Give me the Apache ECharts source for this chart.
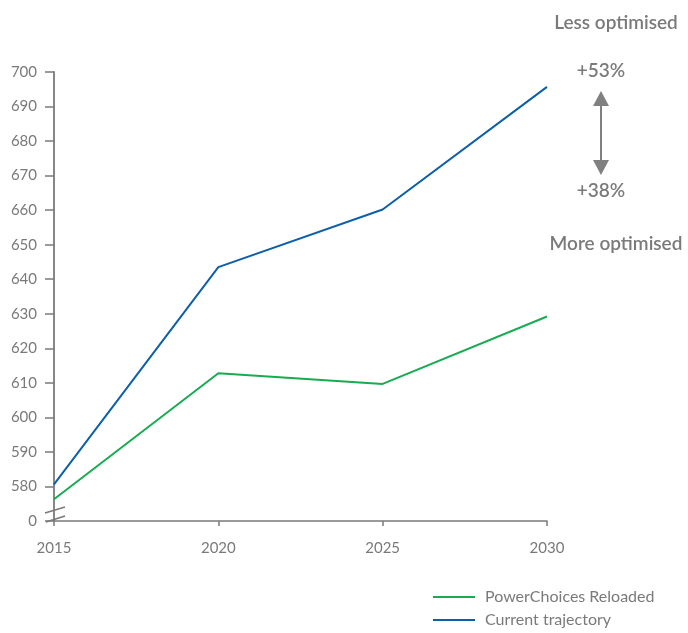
<!DOCTYPE html>
<html>
<head>
<meta charset="utf-8">
<script src="https://cdn.jsdelivr.net/npm/echarts@6/dist/echarts.min.js"></script>
<style>
  html, body { margin: 0; padding: 0; background: #fff; }
  #chart { width: 688px; height: 633px; }
</style>
</head>
<body>
<div id="chart"></div>
<script>
const years = ["2015", "2020", "2025", "2030"];
const powerChoices = [576.3, 612.8, 609.7, 629.2];
const currentTrajectory = [580.6, 643.5, 660.2, 695.7];
// 570 sits where the broken axis shows "0"
const yMin = 570, yMax = 700, yStep = 10;

const grey = "#7a7a7a";
const font = "Lato, 'Open Sans', sans-serif";

const chart = echarts.init(document.getElementById("chart"), null, { renderer: "canvas" });

chart.setOption({
  animation: false,
  grid: { left: 54, right: 141, top: 72, bottom: 112 },
  legend: {
    orient: "vertical",
    left: 433,
    top: 589,
    height: 60,
    padding: 0,
    itemWidth: 42,
    itemHeight: 2,
    itemGap: 7,
    icon: "rect",
    textStyle: { color: grey, fontSize: 16, fontFamily: font, padding: [0, 0, 0, 5] },
    data: ["PowerChoices Reloaded", "Current trajectory"],
  },
  xAxis: {
    type: "category",
    data: years,
    boundaryGap: false,
    axisLine: { lineStyle: { color: grey, width: 1.5 } },
    axisTick: { show: true, alignWithLabel: true, length: 5, lineStyle: { color: grey, width: 1.5 } },
    axisLabel: { color: grey, fontSize: 15, fontFamily: font, margin: 20 },
    splitLine: { show: false },
  },
  yAxis: {
    type: "value",
    min: yMin,
    max: yMax,
    interval: yStep,
    axisLine: { show: true, lineStyle: { color: grey, width: 1.8 } },
    axisTick: { show: true, length: 9, lineStyle: { color: grey, width: 1.5 } },
    axisLabel: {
      color: grey, fontSize: 15, fontFamily: font, margin: 17,
      formatter: (v) => (v === yMin ? "0" : String(v)),
    },
    splitLine: { show: false },
  },
  series: [
    {
      name: "PowerChoices Reloaded",
      type: "line",
      data: powerChoices,
      symbol: "none",
      lineStyle: { color: "#17ab52", width: 2 },
      itemStyle: { color: "#17ab52" },
    },
    {
      name: "Current trajectory",
      type: "line",
      data: currentTrajectory,
      symbol: "none",
      lineStyle: { color: "#0d5fa9", width: 2 },
      itemStyle: { color: "#0d5fa9" },
    },
  ],
});

// axis break marks and right-hand annotations
const ax = chart.convertToPixel({ gridIndex: 0 }, [0, yMin]);
const annoStyle = { fill: grey, font: "600 19px " + font, textAlign: "center", textVerticalAlign: "middle" };
chart.setOption({
  graphic: [
    { type: "line", shape: { x1: ax[0] - 9, y1: ax[1] - 8, x2: ax[0] + 11, y2: ax[1] - 14 }, style: { stroke: grey, lineWidth: 1.8 } },
    { type: "line", shape: { x1: ax[0] - 8, y1: ax[1] + 1, x2: ax[0] + 11, y2: ax[1] - 5 }, style: { stroke: grey, lineWidth: 1.8 } },
    { type: "text", x: 616, y: 23, style: Object.assign({ text: "Less optimised" }, annoStyle) },
    { type: "text", x: 601, y: 71, style: Object.assign({ text: "+53%" }, annoStyle) },
    { type: "text", x: 601, y: 191, style: Object.assign({ text: "+38%" }, annoStyle) },
    { type: "text", x: 616, y: 244, style: Object.assign({ text: "More optimised" }, annoStyle) },
    { type: "line", shape: { x1: 601, y1: 100, x2: 601, y2: 166 }, style: { stroke: "#808080", lineWidth: 2 } },
    { type: "polygon", shape: { points: [[601, 91], [593, 106], [609, 106]] }, style: { fill: "#808080" } },
    { type: "polygon", shape: { points: [[601, 175], [593, 160], [609, 160]] }, style: { fill: "#808080" } },
  ],
});
</script>
</body>
</html>
